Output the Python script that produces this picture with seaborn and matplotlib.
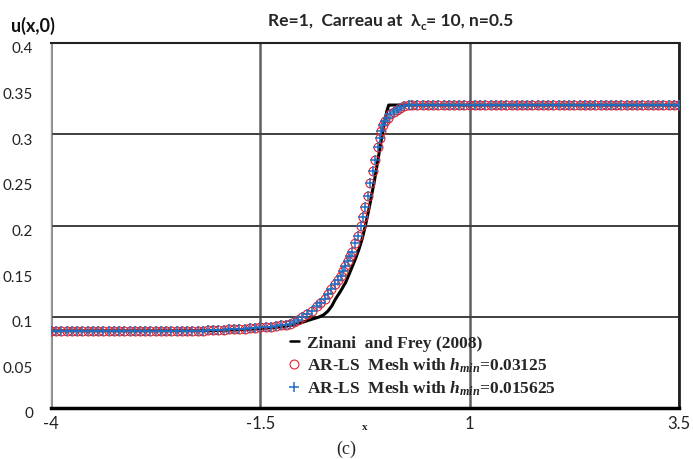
import matplotlib
matplotlib.use("Agg")
import matplotlib.pyplot as plt
import matplotlib.transforms as mtransforms
import seaborn as sns
import pandas as pd

# ---------------- data ----------------
# Zinani and Frey (2008) reference curve
x_ref = [-4.0, -3.0, -2.2, -2.0, -1.75, -1.5, -1.25, -1.095, -0.995, -0.895,
         -0.805, -0.745, -0.695, -0.645, -0.605, -0.542, -0.482, -0.442, -0.402,
         -0.362, -0.322, -0.282, -0.246, -0.192, -0.132, -0.066, -0.02, 0.01,
         0.033, 0.5, 1.0, 2.0, 3.0, 3.5]
u_ref = [0.0845, 0.0845, 0.0846, 0.0850, 0.0858, 0.0870, 0.0890, 0.0915, 0.094,
         0.097, 0.0995, 0.102, 0.106, 0.112, 0.119, 0.128, 0.1375, 0.146, 0.155,
         0.164, 0.174, 0.186, 0.1995, 0.223, 0.252, 0.288, 0.312, 0.325, 0.332,
         0.332, 0.332, 0.332, 0.332, 0.332]

# AR-LS results (both meshes coincide at plotting scale)
x_left = [-4.0, -3.9375, -3.875, -3.8125, -3.75, -3.6875, -3.625, -3.5625, -3.5,
          -3.4375, -3.375, -3.3125, -3.25, -3.1875, -3.125, -3.0625, -3.0,
          -2.9375, -2.875, -2.8125, -2.75, -2.6875, -2.625, -2.5625, -2.5,
          -2.4375, -2.375, -2.3125, -2.25, -2.1875, -2.125, -2.0625, -2.0,
          -1.9375, -1.875, -1.8125, -1.75, -1.6875, -1.625, -1.5625, -1.5,
          -1.4375, -1.375, -1.3125, -1.25]
u_left = [0.0845, 0.0845, 0.0845, 0.0845, 0.0845, 0.0845, 0.0845, 0.0845, 0.0845,
          0.0845, 0.0845, 0.0845, 0.0845, 0.0845, 0.0845, 0.0845, 0.0845,
          0.0845, 0.0845, 0.0845, 0.0845, 0.0845, 0.0845, 0.0845, 0.0845,
          0.0845, 0.0845, 0.0845, 0.0846, 0.0848, 0.0850, 0.0852, 0.0855,
          0.0858, 0.0861, 0.0864, 0.0867, 0.0871, 0.0875, 0.0879, 0.0883,
          0.0888, 0.0893, 0.0899, 0.0906]
x_mid = [-1.195, -1.145, -1.095, -1.055, -1.001, -0.942, -0.882, -0.823, -0.783,
         -0.732, -0.692, -0.652, -0.613, -0.571, -0.542, -0.511, -0.483, -0.452,
         -0.424, -0.405, -0.373, -0.333, -0.293, -0.274, -0.246, -0.218, -0.186,
         -0.155, -0.127, -0.096, -0.074, -0.054, -0.035, -0.006, 0.025, 0.053,
         0.092, 0.131, 0.172, 0.211, 0.27]
u_mid = [0.0914, 0.0925, 0.0940, 0.0960, 0.0992, 0.1028, 0.1065, 0.1113, 0.1156,
         0.1200, 0.1247, 0.1302, 0.1357, 0.1404, 0.1448, 0.1502, 0.1557, 0.1612,
         0.1667, 0.1711, 0.1805, 0.1885, 0.1995, 0.2093, 0.2207, 0.2323, 0.2462,
         0.2596, 0.2717, 0.2863, 0.2954, 0.3034, 0.3096, 0.3143, 0.3180, 0.3217,
         0.3242, 0.3264, 0.3290, 0.3307, 0.3318]
x_right = [0.3125, 0.375, 0.4375, 0.5, 0.5625, 0.625, 0.6875, 0.75, 0.8125, 0.875,
           0.9375, 1.0, 1.0625, 1.125, 1.1875, 1.25, 1.3125, 1.375, 1.4375, 1.5,
           1.5625, 1.625, 1.6875, 1.75, 1.8125, 1.875, 1.9375, 2.0, 2.0625, 2.125,
           2.1875, 2.25, 2.3125, 2.375, 2.4375, 2.5, 2.5625, 2.625, 2.6875, 2.75,
           2.8125, 2.875, 2.9375, 3.0, 3.0625, 3.125, 3.1875, 3.25, 3.3125, 3.375,
           3.4375, 3.5]
u_right = [0.3320, 0.3322, 0.3323, 0.3324, 0.3324, 0.3324, 0.3324, 0.3324, 0.3324, 0.3324,
           0.3324, 0.3324, 0.3324, 0.3324, 0.3324, 0.3324, 0.3324, 0.3324, 0.3324, 0.3324,
           0.3324, 0.3324, 0.3324, 0.3324, 0.3324, 0.3324, 0.3324, 0.3324, 0.3324, 0.3324,
           0.3324, 0.3324, 0.3324, 0.3324, 0.3324, 0.3324, 0.3324, 0.3324, 0.3324, 0.3324,
           0.3324, 0.3324, 0.3324, 0.3324, 0.3324, 0.3324, 0.3324, 0.3324, 0.3324, 0.3324,
           0.3324, 0.3324]

x_ticks = [-4, -1.5, 1, 3.5]
x_ticklabels = ["-4", "-1.5", "1", "3.5"]
y_ticks = [0, 0.05, 0.1, 0.15, 0.2, 0.25, 0.3, 0.35, 0.4]
y_ticklabels = ["0", "0.05", "0.1", "0.15", "0.2", "0.25", "0.3", "0.35", "0.4"]
h_grid = [0.1, 0.2, 0.3]

labels = ["Zinani  and Frey (2008)",
          "AR-LS  Mesh with $h_{min}$=0.03125",
          "AR-LS  Mesh with $h_{min}$=0.015625"]

# ---------------- style ----------------
sns.set_theme(style="white")
plt.rcParams["font.family"] = ["Lato", "DejaVu Sans"]
plt.rcParams["mathtext.fontset"] = "custom"
plt.rcParams["mathtext.it"] = "Liberation Serif:italic:bold"
plt.rcParams["mathtext.rm"] = "Liberation Serif:bold"
plt.rcParams["mathtext.bf"] = "Liberation Serif:bold"

W, H = 693, 460
fig = plt.figure(figsize=(W / 100, H / 100), dpi=100)
ax = fig.add_axes([51 / W, (H - 409) / H, 628 / W, 365 / H])

mesh = pd.DataFrame({"x": x_left + x_mid + x_right,
                     "u": u_left + u_mid + u_right})
ref = pd.DataFrame({"x": x_ref, "u": u_ref})

sns.lineplot(data=ref, x="x", y="u", ax=ax, color="black", lw=2.2,
             sort=False, estimator=None, label=labels[0], zorder=3)
sns.lineplot(data=mesh, x="x", y="u", ax=ax, sort=False, estimator=None,
             linestyle="none", marker="o", markersize=6.4, markerfacecolor="none",
             markeredgecolor="#e8202a", markeredgewidth=0.8, color="#e8202a",
             label=labels[1], zorder=4)
sns.lineplot(data=mesh, x="x", y="u", ax=ax, sort=False, estimator=None,
             linestyle="none", marker="+", markersize=6.5,
             markeredgecolor="#1f6fc4", markeredgewidth=1.1, color="#1f6fc4",
             label=labels[2], zorder=5)

ax.set_xlim(-4, 3.5)
ax.set_ylim(0, 0.4)
ax.set_xticks(x_ticks)
ax.set_xticklabels(x_ticklabels, fontsize=12)
ax.set_yticks(y_ticks)
ax.set_yticklabels(y_ticklabels, fontsize=11)
ax.tick_params(axis="y", length=0, pad=13, colors="#222222")
ax.tick_params(axis="x", length=4, width=1, pad=1, colors="#222222",
               direction="out")
ax.tick_params(axis="x", color="#888888")
ax.set_xlabel("")
ax.set_ylabel("")

# shift y tick labels slightly down, like the original
off = mtransforms.ScaledTranslation(0, -4 / 100, fig.dpi_scale_trans)
for lab in ax.get_yticklabels():
    lab.set_transform(lab.get_transform() + off)

ax.xaxis.grid(True, color="#606060", lw=1.8)
ax.yaxis.grid(False)
for yv in h_grid:
    ax.axhline(yv, color="#404040", lw=1.4, zorder=1)

ax.spines["left"].set_color("#9a9a9a")
ax.spines["left"].set_linewidth(1.0)
ax.spines["top"].set_color("#202020")
ax.spines["top"].set_linewidth(1.5)
ax.spines["right"].set_color("#202020")
ax.spines["right"].set_linewidth(2.0)
ax.spines["bottom"].set_color("black")
ax.spines["bottom"].set_linewidth(2.5)

leg = ax.legend(loc="upper left", bbox_to_anchor=(290 / W, 1 - 336 / H),
                bbox_transform=fig.transFigure, frameon=False, borderpad=0,
                borderaxespad=0, handlelength=0.5, handletextpad=0.5,
                labelspacing=0.27,
                prop={"family": "Liberation Serif", "weight": "bold", "size": 12.5})
leg.get_lines()[0].set_linewidth(1.8)

# texts
fig.text(11 / W, 1 - 32 / H, "u(x,0)", fontsize=13, fontweight="bold",
         va="baseline", ha="left", color="#111111")
fig.text(364.5 / W, 1 - 430 / H, "x", family="Liberation Serif",
         fontweight="bold", fontsize=8, ha="center", va="baseline")
fig.text(346 / W, 1 - 454 / H, "(c)", family="Liberation Serif",
         fontsize=13, ha="center", va="baseline")

# title assembled from pieces (subscript c)
fig.canvas.draw()
r = fig.canvas.get_renderer()
y0 = 1 - 26 / H
t1 = fig.text(268 / W, y0, "Re=1,  Carreau at  λ", fontsize=12.5,
              fontweight="bold", va="baseline", ha="left")
bb1 = t1.get_window_extent(r)
t2 = fig.text(bb1.x1 / W, y0 - 3.5 / H, "c", fontsize=8.5, fontweight="bold",
              va="baseline", ha="left")
bb2 = t2.get_window_extent(r)
fig.text(bb2.x1 / W, y0, "= 10, n=0.5", fontsize=12.5, fontweight="bold",
         va="baseline", ha="left")

fig.savefig("out.png", dpi=100)
